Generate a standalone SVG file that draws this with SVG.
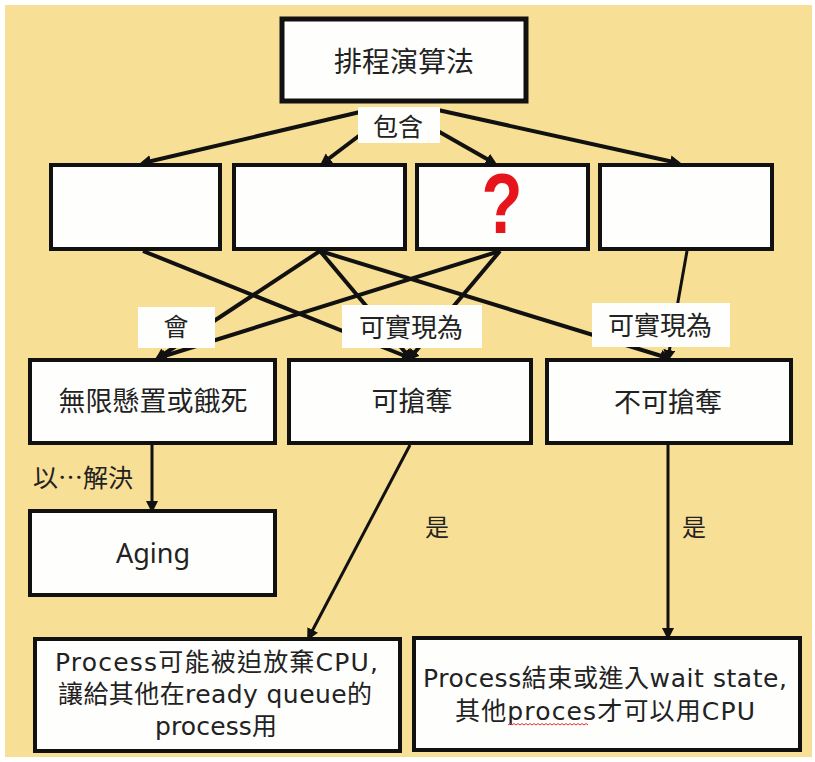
<svg xmlns="http://www.w3.org/2000/svg" width="815" height="762" viewBox="0 0 815 762">
<style>
.box{fill:#FEFEFD;stroke:#111;stroke-width:4}
.lbl{fill:#FEFEFC}
.t{font-family:"Noto Sans","Noto Sans CJK TC","Noto Sans CJK SC",sans-serif;fill:#222;text-anchor:middle}
.d{font-family:"DejaVu Sans","Noto Sans CJK TC","Noto Sans CJK SC",sans-serif}
.edge{stroke:#111;stroke-width:4;fill:none;marker-end:url(#ah)}
</style>
<defs>
<marker id="ah" markerUnits="userSpaceOnUse" markerWidth="14" markerHeight="14" refX="8" refY="6" orient="auto">
<path d="M0,0 L12,6 L0,12 z" fill="#111"/>
</marker>
</defs>
<rect x="0" y="0" width="815" height="762" fill="#FFFFFF"/>
<rect x="5" y="5" width="807" height="752" fill="#F8DF96"/>

<g id="node-root"><rect class="box" x="282" y="19" width="244" height="82" style="stroke-width:5"/><text class="t" x="404" y="72" font-size="28">排程演算法</text></g>

<g id="node-a1"><rect class="box" x="51" y="165" width="169" height="84"/></g>
<g id="node-a2"><rect class="box" x="234" y="165" width="171" height="84"/></g>
<g id="node-a3"><rect class="box" x="417" y="165" width="171" height="84"/><text x="0" y="0" transform="translate(502,233) scale(0.78,1)" font-family="'Liberation Sans',Arial,sans-serif" font-weight="bold" font-size="86" fill="#E8141B" text-anchor="middle">?</text></g>
<g id="node-a4"><rect class="box" x="600" y="165" width="172" height="84"/></g>

<g id="node-starve"><rect class="box" x="30" y="360" width="245" height="83"/><text class="t" x="153" y="411" font-size="27">無限懸置或餓死</text></g>
<g id="node-preempt"><rect class="box" x="289" y="360" width="242" height="83"/><text class="t" x="412" y="411" font-size="27">可搶奪</text></g>
<g id="node-nonpreempt"><rect class="box" x="547" y="360" width="244" height="83"/><text class="t" x="668" y="412" font-size="27">不可搶奪</text></g>
<g id="node-aging"><rect class="box" x="30" y="511" width="245" height="84"/><text class="t" x="153" y="563" font-size="27">Aging</text></g>

<g id="node-preempt-desc"><rect class="box" x="35" y="639" width="365" height="112"/>
<text class="t d" x="216.5" y="671" font-size="25" textLength="323" lengthAdjust="spacing">Process可能被迫放棄CPU,</text>
<text class="t d" x="215" y="703" font-size="25" textLength="314" lengthAdjust="spacing">讓給其他在ready queue的</text>
<text class="t d" x="216" y="735" font-size="25" textLength="122" lengthAdjust="spacing">process用</text>
</g>
<g id="node-nonpreempt-desc"><rect class="box" x="414" y="638" width="386" height="112"/>
<text class="t d" x="605" y="687" font-size="25" textLength="364" lengthAdjust="spacing">Process結束或進入wait state,</text>
<text class="t d" x="605" y="720" font-size="25" textLength="300" lengthAdjust="spacing">其他proces才可以用CPU</text>
<path d="M508,725 l2,-1.5 2,1.5 2,-1.5 2,1.5 2,-1.5 2,1.5 2,-1.5 2,1.5 2,-1.5 2,1.5 2,-1.5 2,1.5 2,-1.5 2,1.5 2,-1.5 2,1.5 2,-1.5 2,1.5 2,-1.5 2,1.5 2,-1.5 2,1.5 2,-1.5 2,1.5 2,-1.5 2,1.5 2,-1.5 2,1.5 2,-1.5 2,1.5 2,-1.5 2,1.5 2,-1.5 2,1.5 2,-1.5 2,1.5 2,-1.5 2,1.5 2,-1.5 2,1.5" fill="none" stroke="#E03030" stroke-width="1"/>
</g>

<g id="connectors">
<path class="edge" d="M360,112 L143,163"/>
<path class="edge" d="M364,132 L323,163"/>
<path class="edge" d="M436,130 L494,163"/>
<path class="edge" d="M438,110 L678,163"/>
<path class="edge" d="M143,251 L410,358"/>
<path class="edge" d="M320,251 L158,358"/>
<path class="edge" d="M320,251 L410,358"/>
<path class="edge" d="M320,251 L668,358"/>
<path class="edge" d="M500,251 L158,358"/>
<path class="edge" d="M500,251 L410,358"/>
<path class="edge" d="M687,251 L668,358" style="stroke-width:3"/>
<path class="edge" d="M152,445 L152,509" style="stroke-width:3"/>
<path class="edge" d="M410,445 L309,637" style="stroke-width:3"/>
<path class="edge" d="M668,445 L668,636" style="stroke-width:3"/>
</g>

<g id="edge-labels">
<rect class="lbl" x="358" y="107" width="82" height="36"/><text class="t" x="398" y="136" font-size="25">包含</text>
<rect class="lbl" x="138" y="307" width="77" height="41"/><text class="t" x="176" y="336" font-size="25">會</text>
<rect class="lbl" x="342" y="305" width="140" height="43"/><text class="t" x="411" y="337" font-size="26">可實現為</text>
<rect class="lbl" x="592" y="303" width="138" height="44"/><text class="t" x="660" y="335" font-size="26">可實現為</text>
<text x="33" y="487" font-size="25" font-family="'Noto Sans CJK TC','Noto Sans CJK SC',sans-serif" fill="#222">以…解決</text>
<text class="t" x="437" y="536" font-size="24">是</text>
<text class="t" x="694" y="536" font-size="24">是</text>
</g>
</svg>
